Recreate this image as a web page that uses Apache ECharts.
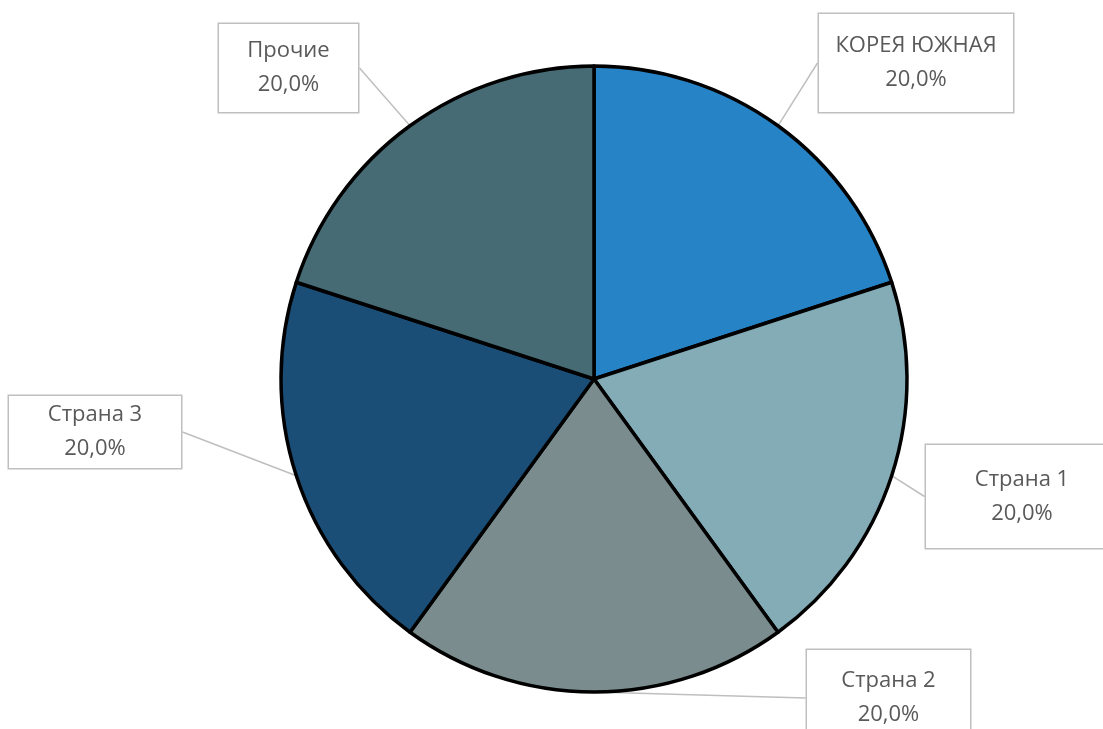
<!DOCTYPE html>
<html>
<head>
<meta charset="utf-8">
<script src="https://cdn.jsdelivr.net/npm/echarts@6/dist/echarts.min.js"></script>
<style>html,body{margin:0;padding:0;background:#fff;}#c{width:1103px;height:729px;}</style>
</head>
<body>
<div id="c"></div>
<script>
const categories = ['КОРЕЯ ЮЖНАЯ', 'Страна 1', 'Страна 2', 'Страна 3', 'Прочие'];
const values = [20, 20, 20, 20, 20];
const colors = ['#2683C6', '#84ACB6', '#7A8C8E', '#1A4E77', '#466B74'];
// label box layout: center x, center y, box width, vertical padding
const labelBoxes = [
  [916, 63, 194, 15],
  [1022, 496.5, 192, 17.5],
  [888.5, 698, 163, 14],
  [95, 432, 172, 2],
  [288.5, 68, 139, 10]
];

const total = values.reduce((a, b) => a + b, 0);
const data = categories.map((n, i) => ({
  name: n,
  value: values[i],
  itemStyle: { color: colors[i] },
  label: { width: labelBoxes[i][2], padding: [labelBoxes[i][3], 0] }
}));

const chart = echarts.init(document.getElementById('c'));
chart.setOption({
  animation: false,
  series: [{
    type: 'pie',
    center: [594, 379],
    radius: 313,
    startAngle: 90,
    clockwise: true,
    data: data,
    itemStyle: { borderColor: '#000', borderWidth: 3.5 },
    label: {
      show: true,
      formatter: p => p.name + '\n' + (p.value / total * 100).toFixed(1).replace('.', ',') + '%',
      fontFamily: 'Open Sans',
      fontSize: 22,
      lineHeight: 34,
      color: '#595959',
      align: 'center',
      backgroundColor: '#fff',
      borderColor: '#bfbfbf',
      borderWidth: 1.5
    },
    labelLine: {
      show: true,
      length2: 0,
      lineStyle: { color: '#bfbfbf', width: 1.5 }
    },
    labelLayout: p => ({
      x: labelBoxes[p.dataIndex][0],
      y: labelBoxes[p.dataIndex][1],
      align: 'center',
      verticalAlign: 'middle'
    })
  }]
});
</script>
</body>
</html>
